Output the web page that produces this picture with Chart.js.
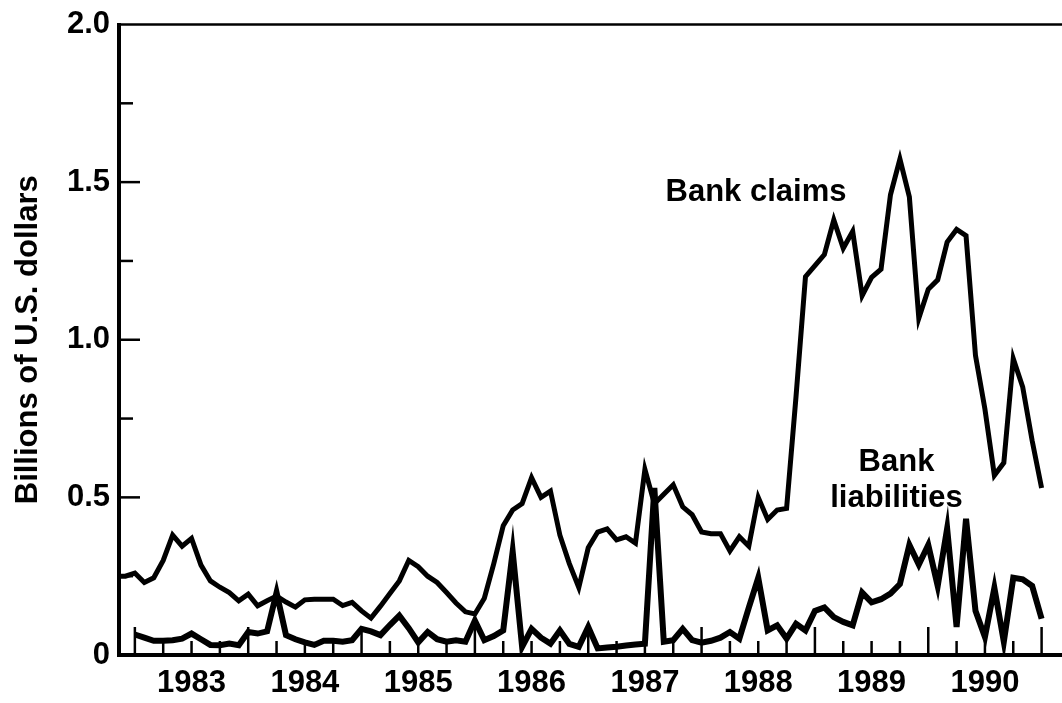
<!DOCTYPE html>
<html><head><meta charset="utf-8">
<script src="https://cdn.jsdelivr.net/npm/chart.js@4.4.1/dist/chart.umd.min.js"></script>
<style>html,body{margin:0;padding:0;background:#fff;overflow:hidden;}</style>
</head><body>
<canvas id="c" width="1062" height="703"></canvas>
<script>
// Monthly series, first value = October 1982 (plotted at month end)
const startYear = 1982;
const startMonth = 10;
const bankClaims = [
  0.25, 0.25, 0.26, 0.23, 0.245, 0.30, 0.38, 0.345, 0.37, 0.285,
  0.235, 0.215, 0.198, 0.172, 0.193, 0.156, 0.172, 0.187, 0.168, 0.152,
  0.175, 0.177, 0.177, 0.177, 0.157, 0.167, 0.14, 0.117, 0.155, 0.195,
  0.235, 0.30, 0.28, 0.25, 0.23, 0.198, 0.165, 0.137, 0.13, 0.18,
  0.29, 0.41, 0.46, 0.48, 0.5625, 0.50, 0.52, 0.38, 0.29, 0.214,
  0.34, 0.39, 0.40, 0.365, 0.375, 0.355, 0.589, 0.48, 0.51, 0.54,
  0.47, 0.445, 0.39, 0.385, 0.385, 0.33, 0.375, 0.345, 0.50, 0.43,
  0.46, 0.465, 0.82, 1.20, 1.235, 1.27, 1.38, 1.29, 1.344, 1.14,
  1.198, 1.224, 1.46, 1.573, 1.453, 1.068, 1.16, 1.19, 1.31, 1.35,
  1.33, 0.95, 0.78, 0.57, 0.61, 0.94, 0.85, 0.68, 0.53
];
const bankLiabilities = [
  null, null, 0.065, 0.055, 0.045, 0.045, 0.047, 0.052, 0.068, 0.05,
  0.032, 0.031, 0.036, 0.031, 0.073, 0.068, 0.075, 0.198, 0.063, 0.05,
  0.04, 0.032, 0.045, 0.045, 0.042, 0.047, 0.083, 0.075, 0.063, 0.095,
  0.125, 0.085, 0.04, 0.073, 0.05, 0.042, 0.047, 0.042, 0.109, 0.047,
  0.06, 0.078, 0.328, 0.026, 0.083, 0.055, 0.036, 0.078, 0.035, 0.026,
  0.089, 0.021, 0.024, 0.026, 0.03, 0.033, 0.036, 0.53, 0.042, 0.047,
  0.083, 0.047, 0.039, 0.045, 0.055, 0.073, 0.052, 0.15, 0.245, 0.078,
  0.094, 0.052, 0.099, 0.078, 0.14, 0.151, 0.12, 0.105, 0.094, 0.198,
  0.167, 0.177, 0.195, 0.225, 0.349, 0.287, 0.349, 0.219, 0.401, 0.089,
  0.432, 0.14, 0.057, 0.213, 0.042, 0.245, 0.24, 0.219, 0.115
];
const yearLabels = ['1983', '1984', '1985', '1986', '1987', '1988', '1989', '1990'];
const yTickLabels = ['0', '0.5', '1.0', '1.5', '2.0'];
const yTitle = 'Billions of U.S. dollars';
const seriesNames = ['Bank claims', 'Bank liabilities'];

// build x positions (decimal year at month end)
const monthX = bankClaims.map((_, i) => {
  const m = startMonth - 1 + i;
  return startYear + Math.floor(m / 12) + ((m % 12) + 1) / 12;
});
const toPoints = arr => arr.map((v, i) => ({ x: monthX[i], y: v }));

const firstYear = parseInt(yearLabels[0], 10);
const quarterTicks = [];
for (let q = 0; q <= yearLabels.length * 4; q++) quarterTicks.push(firstYear + q / 4);

const FONT = { family: '"Liberation Sans", Arial, Helvetica, sans-serif', size: 31, weight: 'bold' };

const innerMarks = {
  id: 'innerMarks',
  afterDatasetsDraw(chart) {
    const { ctx, chartArea: a, scales: { x, y } } = chart;
    ctx.save();
    ctx.strokeStyle = '#000';
    ctx.lineCap = 'butt';
    // top frame line
    ctx.lineWidth = 2.5;
    ctx.beginPath(); ctx.moveTo(a.left - 2, a.top); ctx.lineTo(a.right, a.top); ctx.stroke();
    // inward x ticks
    ctx.lineWidth = 2.5;
    quarterTicks.forEach(v => {
      const px = x.getPixelForValue(v);
      const len = Math.abs(v - Math.round(v)) < 1e-6 ? 28 : 14;
      ctx.beginPath(); ctx.moveTo(px, a.bottom); ctx.lineTo(px, a.bottom - len); ctx.stroke();
    });
    // inward y ticks
    for (let v = 0.25; v < 2; v += 0.25) {
      const py = y.getPixelForValue(v);
      const len = Math.abs(v * 2 - Math.round(v * 2)) < 1e-6 ? 21 : 14;
      ctx.beginPath(); ctx.moveTo(a.left, py); ctx.lineTo(a.left + len, py); ctx.stroke();
    }
    // series labels
    ctx.fillStyle = '#000';
    ctx.font = FONT.weight + ' ' + FONT.size + 'px ' + FONT.family;
    ctx.textAlign = 'center';
    ctx.textBaseline = 'middle';
    const o = chart.options.plugins.innerMarks;
    ctx.fillText(seriesNames[0], x.getPixelForValue(o.claimsAt[0]), y.getPixelForValue(o.claimsAt[1]));
    const parts = seriesNames[1].split(' ');
    ctx.fillText(parts[0], x.getPixelForValue(o.liabAt[0]), y.getPixelForValue(o.liabAt[1]));
    ctx.fillText(parts[1], x.getPixelForValue(o.liabAt[0]), y.getPixelForValue(o.liabAt[2]));
    ctx.restore();
  }
};

new Chart(document.getElementById('c'), {
  type: 'line',
  data: {
    datasets: [
      { label: seriesNames[0], data: toPoints(bankClaims), borderColor: '#000', borderWidth: 5, pointRadius: 0, tension: 0, fill: false },
      { label: seriesNames[1], data: toPoints(bankLiabilities), borderColor: '#000', borderWidth: 6, pointRadius: 0, tension: 0, fill: false, spanGaps: false }
    ]
  },
  options: {
    responsive: false,
    animation: false,
    devicePixelRatio: 1,
    layout: { padding: { top: 15, left: 0, right: 0, bottom: 0 } },
    plugins: {
      legend: { display: false },
      tooltip: { enabled: false },
      innerMarks: { claimsAt: [1988.48, 1.466], liabAt: [1989.72, 0.61, 0.495] }
    },
    scales: {
      x: {
        type: 'linear',
        min: 1982.86,
        max: 1991.18,
        afterBuildTicks: s => { s.ticks = quarterTicks.map(v => ({ value: v })); },
        afterFit: s => { s.height = 48; },
        ticks: {
          autoSkip: false, maxRotation: 0, padding: 10, color: '#000', font: FONT,
          callback: v => {
            const f = v - Math.floor(v);
            return Math.abs(f - 0.5) < 1e-6 ? yearLabels[Math.floor(v) - firstYear] : '';
          }
        },
        grid: { display: true, drawOnChartArea: false, drawTicks: false },
        border: { display: true, width: 4, color: '#000' }
      },
      y: {
        type: 'linear',
        min: 0,
        max: 2,
        afterFit: s => { s.width = 119; },
        ticks: {
          stepSize: 0.5, padding: 9, color: '#000', font: Object.assign({ lineHeight: 1 }, FONT),
          callback: v => yTickLabels[Math.round(v * 2)]
        },
        grid: { display: true, drawOnChartArea: false, drawTicks: false },
        border: { display: true, width: 4, color: '#000' },
        title: { display: true, text: yTitle, color: '#000', font: FONT, padding: { top: 10, bottom: 0 } }
      }
    }
  },
  plugins: [innerMarks]
});
</script>
</body></html>
